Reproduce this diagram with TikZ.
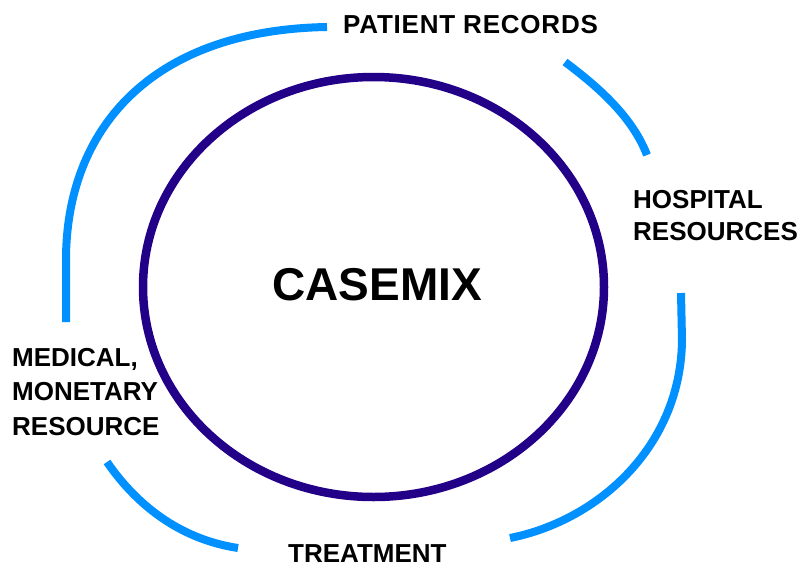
\documentclass[tikz,border=0pt]{standalone}
\usepackage{fontspec}
\setmainfont{Liberation Sans}
\definecolor{arcblue}{RGB}{0,144,255}
\definecolor{ringindigo}{RGB}{34,0,136}
\begin{document}
\begin{tikzpicture}[x=1pt,y=-1pt,
  outerarc/.style={draw=arcblue,line width=8pt},
  ring/.style={draw=ringindigo,line width=8.5pt},
  label/.style={inner sep=0pt,anchor=north west,align=left,font=\bfseries\fontsize{26}{32}\selectfont},
  title/.style={inner sep=0pt,font=\bfseries\fontsize{46}{50}\selectfont}]
\useasboundingbox (0,0) rectangle (805,565);
% inner ring
\draw[ring] (373.5,287) ellipse [x radius=230.5, y radius=210];
\node[title] (casemix) at (377,285) {CASEMIX};
% outer arcs
\draw[outerarc] (327,27) .. controls (150,30) and (66,130) .. (66,260) -- (66,322);
\draw[outerarc] (565,62) .. controls (597,86) and (632,116) .. (647,155);
\draw[outerarc] (681,293) -- (682,340) .. controls (681,445) and (600,520) .. (510,538);
\draw[outerarc] (107,462) .. controls (140,510) and (185,540) .. (238,548);
% labels
\node[label] (patient) at (343,15) {\addfontfeature{LetterSpace=3}PATIENT RECORDS};
\node[label] (hospital) at (633,190) {HOSPITAL\\RESOURCES};
\node[label,font=\bfseries\fontsize{26}{34.5}\selectfont] (medical) at (12,348) {MEDICAL,\\MONETARY\\RESOURCE};
\node[label] (treatment) at (288,544) {TREATMENT};
\end{tikzpicture}
\end{document}
